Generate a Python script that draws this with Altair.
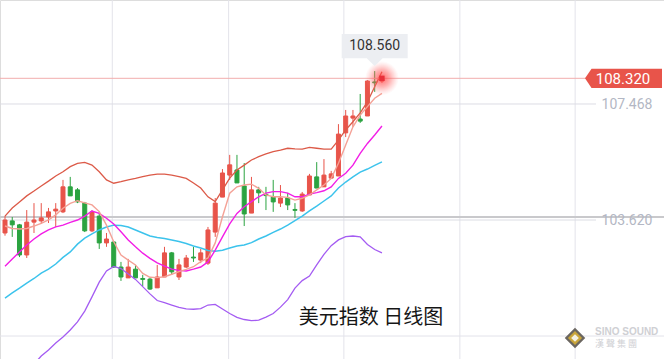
import altair as alt
import pandas as pd

# ---------------- data ----------------
opens = [103.19, 103.59, 103.46, 102.46, 103.55, 103.59, 103.72, 103.92, 103.89, 104.72,
         104.62, 104.18, 103.26, 103.75, 102.86, 102.89, 102.06, 101.70, 101.99, 101.68,
         101.66, 101.37, 101.73, 102.53, 101.73, 102.06, 102.39, 102.29, 102.19, 103.22,
         104.38, 105.11, 105.28, 104.75, 103.85, 104.62, 104.47, 104.38, 104.18, 104.35,
         103.97, 103.92, 104.45, 105.05, 104.72, 105.01, 105.08, 106.51, 107.00, 106.97,
         107.07, 108.20, 108.23]
highs = [103.75, 103.72, 103.49, 103.95, 104.18, 104.18, 104.02, 104.18, 104.95, 105.05,
         104.68, 104.22, 103.95, 103.89, 103.19, 102.92, 102.23, 102.33, 102.13, 101.80,
         101.70, 102.13, 102.73, 102.56, 102.33, 102.46, 102.73, 102.66, 103.39, 104.35,
         105.31, 105.78, 105.78, 105.51, 105.05, 104.72, 104.72, 104.95, 104.78, 104.52,
         104.18, 104.55, 105.15, 105.54, 105.64, 105.25, 106.80, 107.27, 107.27, 107.80,
         108.26, 108.56, 108.36]
lows = [103.10, 103.06, 102.39, 102.36, 103.19, 103.49, 103.52, 103.39, 103.85, 104.42,
        104.18, 103.22, 103.22, 102.66, 102.73, 102.03, 101.60, 101.70, 101.70, 101.43,
        101.30, 101.37, 101.73, 101.80, 101.63, 102.03, 102.23, 102.19, 102.13, 103.06,
        104.38, 104.95, 104.85, 103.42, 103.85, 104.18, 103.95, 103.89, 104.05, 103.95,
        103.69, 103.89, 104.45, 104.68, 104.72, 105.01, 105.08, 106.37, 106.71, 106.84,
        107.07, 107.87, 108.17]
closes = [103.62, 103.46, 102.46, 103.55, 103.62, 103.69, 103.89, 103.98, 104.72, 104.42,
          104.22, 103.26, 103.89, 102.86, 102.99, 102.06, 101.73, 102.06, 101.70, 101.65,
          101.33, 101.73, 102.53, 101.90, 102.13, 102.36, 102.36, 102.53, 103.29, 104.18,
          105.18, 105.45, 104.85, 103.82, 104.62, 104.52, 104.43, 104.22, 104.35, 104.12,
          103.94, 104.48, 105.08, 104.68, 105.11, 105.15, 106.47, 107.07, 107.07, 106.90,
          108.23, 108.17, 108.32]

boll_upper = [103.75, 104.02, 104.22, 104.42, 104.58, 104.75, 104.91, 105.08, 105.22, 105.39,
              105.50, 105.53, 105.44, 105.22, 104.95, 104.84, 104.89, 104.95, 105.00, 105.06,
              105.11, 105.14, 105.14, 105.11, 105.06, 105.00, 104.85, 104.68, 104.39, 104.23,
              104.62, 105.01, 105.28, 105.44, 105.61, 105.72, 105.81, 105.89, 105.94, 106.00,
              105.98, 105.97, 106.03, 106.00, 105.97, 105.97, 106.27, 106.61, 106.88, 107.17,
              107.54, 108.04, 108.54]
ma_fast = [103.42, 103.34, 103.32, 103.34, 103.42, 103.51, 103.62, 103.79, 104.01, 104.17,
           104.26, 104.19, 104.12, 103.90, 103.45, 102.90, 102.46, 102.29, 102.13, 101.85,
           101.72, 101.71, 101.74, 101.82, 101.91, 101.98, 102.07, 102.24, 102.36, 102.86,
           103.73, 104.51, 104.72, 104.78, 104.81, 104.67, 104.45, 104.39, 104.39, 104.37,
           104.28, 104.34, 104.45, 104.62, 104.78, 105.00, 105.50, 106.11, 106.71, 107.10,
           107.38, 107.66, 107.82]
boll_mid = [102.09, 102.33, 102.56, 102.79, 102.99, 103.16, 103.29, 103.39, 103.45, 103.54,
            103.62, 103.75, 103.92, 103.84, 103.68, 103.49, 103.23, 102.96, 102.73, 102.52,
            102.35, 102.20, 102.09, 101.99, 101.95, 101.93, 101.99, 102.06, 102.23, 102.62,
            103.06, 103.49, 103.84, 104.06, 104.23, 104.39, 104.51, 104.56, 104.56, 104.51,
            104.39, 104.39, 104.48, 104.53, 104.59, 104.72, 105.00, 105.17, 105.44, 105.83,
            106.16, 106.44, 106.74]
boll_lower = [None, None, None, None,
              98.84, 99.11, 99.31, 99.54, 99.74, 99.97, 100.24, 100.60, 101.07, 101.56,
              101.93, 102.08, 102.01, 101.83, 101.65, 101.41, 101.17, 100.95, 100.88, 100.80,
              100.72, 100.67, 100.66, 100.68, 100.80, 100.82, 100.67, 100.52, 100.39, 100.32,
              100.28, 100.30, 100.40, 100.52, 100.73, 100.98, 101.36, 101.61, 101.76, 102.13,
              102.48, 102.77, 102.96, 103.07, 103.09, 103.06, 102.81, 102.64, 102.53]
ma_slow = [101.03, 101.20, 101.36, 101.53, 101.68, 101.86, 101.99, 102.16, 102.38, 102.56,
           102.82, 103.02, 103.16, 103.29, 103.39, 103.45, 103.44, 103.39, 103.29, 103.19,
           103.09, 103.04, 103.01, 102.96, 102.91, 102.84, 102.76, 102.69, 102.61, 102.58,
           102.62, 102.69, 102.76, 102.79, 102.87, 102.99, 103.09, 103.21, 103.32, 103.45,
           103.60, 103.75, 103.92, 104.08, 104.25, 104.42, 104.68, 104.88, 105.05, 105.21,
           105.31, 105.43, 105.55]

grid_x = [14.8, 30.85, 46.75, 62.75, 78.65]
level_prices = [107.468, 103.620]
level_labels = ["107.468", "103.620"]
bottom_grid = [99.772]
last_price = [108.320]
last_label = ["108.320"]
peak_index = [51]
peak_price = [108.560]
peak_label = ["108.560"]
title_text = "美元指数 日线图"
logo_en = "SINO SOUND"
logo_cn = "漢 聲 集 團"

# ---------------- chart ----------------
RED = "#e8544a"
GREEN = "#2ba340"
n = len(opens)
idx = list(range(n))

candles = pd.DataFrame({"i": idx, "open": opens, "high": highs, "low": lows, "close": closes})
candles["dir"] = ["up" if c >= o else "down" for o, c in zip(opens, closes)]

XS = alt.Scale(domain=[0, 90.22], nice=False, zero=False)
YS = alt.Scale(domain=[99.01, 110.917], nice=False, zero=False)
CS = alt.Scale(domain=["up", "down"], range=[RED, GREEN])


def xq(f):
    return alt.X(f, type="quantitative", scale=XS, axis=None)


def yq(f):
    return alt.Y(f, type="quantitative", scale=YS, axis=None)


vgrid = alt.Chart(pd.DataFrame({"gx": grid_x})).mark_rule(
    color="#e3e3ea", strokeWidth=1).encode(x=xq("gx"))

levels = pd.DataFrame({"p": level_prices, "t": level_labels})
hgrid = alt.Chart(levels).mark_rule(color="#dcdde4", strokeWidth=1).encode(
    y=yq("p"), x=alt.value(0), x2=alt.value(596))
hbottom = alt.Chart(pd.DataFrame({"p": bottom_grid})).mark_rule(
    color="#e3e3ea", strokeWidth=1).encode(y=yq("p"), x=alt.value(0), x2=alt.value(664))
thick = alt.Chart(pd.DataFrame({"p": level_prices[1:]})).mark_rule(
    color="#c9c9cc", strokeWidth=2).encode(y=alt.value(217), x=alt.value(0), x2=alt.value(664))
level_text = alt.Chart(levels).mark_text(
    font="Roboto", fontSize=14, color="#b3b7c4", align="center", baseline="middle", dy=1
).encode(y=yq("p"), x=alt.value(627), text="t:N")

wicks = alt.Chart(candles).mark_rule(strokeWidth=1, clip=True).encode(
    x=xq("i"), y=yq("low"), y2="high:Q",
    color=alt.Color("dir:N", scale=CS, legend=None))
bodies = alt.Chart(candles).mark_bar(size=4, strokeWidth=1, clip=True).encode(
    x=xq("i"), y=yq("open"), y2="close:Q",
    color=alt.Color("dir:N", scale=CS, legend=None),
    stroke=alt.Stroke("dir:N", scale=CS, legend=None))


def line(vals, color, w):
    df = pd.DataFrame({"i": idx, "v": vals})
    return alt.Chart(df).mark_line(color=color, strokeWidth=w, clip=True).encode(
        x=xq("i"), y=yq("v"))


lines = [
    line(ma_slow, "#3cc3ec", 1.5),
    line(boll_lower, "#a45cf2", 1.3),
    line(boll_mid, "#f21ee6", 1.4),
    line(boll_upper, "#dc5a48", 1.3),
    line(ma_fast, "#f4a196", 1.4),
]

lastdf = pd.DataFrame({"i": [n - 1], "p": last_price, "t": last_label})
price_line = alt.Chart(lastdf).mark_rule(color="#f2adad", strokeWidth=1).encode(
    y=yq("p"), x=alt.value(0), x2=alt.value(586))
tag_path = "M -1 0 L -0.83 -0.25 L 1 -0.25 L 1 0.25 L -0.83 0.25 Z"
price_tag = alt.Chart(lastdf).mark_point(
    shape=tag_path, size=77 * 77, filled=True, fill=RED, stroke=None, opacity=1
).encode(y=yq("p"), x=alt.value(623.5))
price_tag_text = alt.Chart(lastdf).mark_text(
    font="Roboto", fontSize=15, color="white", align="center", baseline="middle", dy=1
).encode(y=yq("p"), x=alt.value(623), text="t:N")

glow = alt.Chart(lastdf).mark_circle(
    size=1150, opacity=1,
    fill=alt.Gradient(gradient="radial",
                      stops=[alt.GradientStop(color="rgba(255,60,60,0.8)", offset=0),
                             alt.GradientStop(color="rgba(255,90,90,0.45)", offset=0.5),
                             alt.GradientStop(color="rgba(255,140,140,0)", offset=1)],
                      x1=0.5, y1=0.5, x2=0.5, y2=0.5, r1=0, r2=0.5)
).encode(x=xq("i"), y=yq("p"))
dot = alt.Chart(lastdf).mark_point(shape="square", size=28, filled=True, color="#e8303a",
                                   opacity=1).encode(x=xq("i"), y=yq("p"))

peakdf = pd.DataFrame({"i": peak_index, "p": peak_price, "t": peak_label})
tip_path = ("M -1 -1.12 L 1 -1.12 L 1 -0.39 L 0.24 -0.39 L 0 -0.15 "
            "L -0.24 -0.39 L -1 -0.39 Z")
tip_box = alt.Chart(peakdf).mark_point(
    shape=tip_path, size=66 * 66, filled=True, fill="#eceef2", stroke=None, opacity=1
).encode(x=xq("i"), y=yq("p"))
tip_text = alt.Chart(peakdf).mark_text(
    font="Roboto", fontSize=14, color="#333333", align="center", baseline="middle", dy=-25
).encode(x=xq("i"), y=yq("p"), text="t:N")

title = alt.Chart(pd.DataFrame({"t": [title_text]})).mark_text(
    font="Noto Sans CJK SC", fontSize=20, color="#161616", align="center", baseline="middle"
).encode(x=alt.value(371), y=alt.value(318), text="t:N")

logo_df = pd.DataFrame({"k": [0]})
logo_outer = alt.Chart(logo_df).mark_point(shape="diamond", size=420, filled=True,
                                           color="#6b6660", opacity=1).encode(
    x=alt.value(575), y=alt.value(338))
logo_mid = alt.Chart(logo_df).mark_point(shape="diamond", size=200, filled=True,
                                         color="#c9a53a", opacity=1).encode(
    x=alt.value(575), y=alt.value(338))
logo_in = alt.Chart(logo_df).mark_point(shape="diamond", size=60, filled=True,
                                        color="#f4f1e4", opacity=1).encode(
    x=alt.value(575), y=alt.value(338))
logo_t1 = alt.Chart(pd.DataFrame({"t": [logo_en]})).mark_text(
    font="Liberation Sans", fontSize=10, fontWeight="bold", color="#cfd0d4",
    align="left", baseline="middle").encode(x=alt.value(595), y=alt.value(332), text="t:N")
logo_t2 = alt.Chart(pd.DataFrame({"t": [logo_cn]})).mark_text(
    font="Noto Sans CJK TC", fontSize=9, color="#cfd0d4",
    align="left", baseline="middle").encode(x=alt.value(595), y=alt.value(344), text="t:N")

chart = alt.layer(
    vgrid, hgrid, hbottom, thick, level_text,
    wicks, bodies, *lines,
    price_line, glow, dot, price_tag, price_tag_text,
    tip_box, tip_text, title,
    logo_outer, logo_mid, logo_in, logo_t1, logo_t2,
).properties(
    width=664, height=359, padding=0,
    autosize=alt.AutoSizeParams(type="none"),
).configure_view(stroke=None).configure(background="white")

chart.save("out.html", embed_options={"renderer": "svg", "actions": False})
